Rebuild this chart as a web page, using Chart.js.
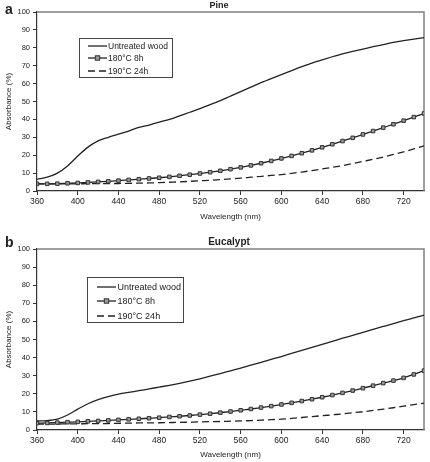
<!DOCTYPE html>
<html>
<head>
<meta charset="utf-8">
<script src="https://cdn.jsdelivr.net/npm/chart.js@4.4.1/dist/chart.umd.min.js"></script>
<style>
  html,body{margin:0;padding:0;background:#fff;}
  #wrap{position:relative;width:430px;height:462px;overflow:hidden;background:#fff;font-family:"Liberation Sans",Arial,sans-serif;color:#222;}
  canvas{position:absolute;left:0;}
  .lbl{position:absolute;font-weight:bold;font-size:14px;line-height:14px;z-index:2;}
  .ttl{position:absolute;font-weight:bold;transform:translate(-50%,-50%);white-space:nowrap;z-index:2;line-height:1;}
  .leg{position:absolute;border:1px solid #444;background:#fff;z-index:2;box-sizing:border-box;filter:grayscale(1);}
  .row{position:absolute;left:0;display:flex;align-items:center;white-space:nowrap;transform:translateY(-50%);}
  .row svg{display:block;}
</style>
</head>
<body>
<div id="wrap">
  <canvas id="c1" width="430" height="231" style="top:0px"></canvas>
  <canvas id="c2" width="430" height="239" style="top:223px"></canvas>
  <div class="lbl" style="left:5px;top:2px;">a</div>
  <div class="ttl" style="left:219px;top:5px;font-size:9px;">Pine</div>
  <div class="lbl" style="left:5px;top:235px;">b</div>
  <div class="ttl" style="left:229px;top:242px;font-size:10px;">Eucalypt</div>
  <div id="leg1" class="leg" style="left:79px;top:38px;width:94px;height:40px;"></div>
  <div id="leg2" class="leg" style="left:87px;top:277px;width:97px;height:46px;"></div>
</div>
<script>
// ---- data ----
const wavelengths = [360,370,380,390,400,410,420,430,440,450,460,470,480,490,500,510,520,530,540,550,560,570,580,590,600,610,620,630,640,650,660,670,680,690,700,710,720,730,740];
const seriesNames = ["Untreated wood", "180°C 8h", "190°C 24h"];
const xTickLabels = [360,400,440,480,520,560,600,640,680,720];
const yTickLabels = [0,10,20,30,40,50,60,70,80,90,100];

const pineUntreated = [6.5,7.7,10,14,19.5,24.5,28,30,31.8,33.5,35.5,36.8,38.5,40,42,44,46,48.2,50.5,53,55.5,58,60.5,62.8,65,67.3,69.5,71.5,73.3,75,76.6,78,79.3,80.6,81.8,83,84,84.9,85.7];
const pine180_8h   = [4,4,4.1,4.3,4.5,4.8,5.1,5.4,5.8,6.2,6.6,7,7.4,7.9,8.5,9.1,9.8,10.5,11.3,12.2,13.2,14.3,15.5,16.8,18.2,19.6,21.1,22.7,24.4,26.1,27.9,29.7,31.6,33.5,35.4,37.3,39.3,41.3,43.3];
const pine190_24h  = [4,4,4,4,4,4.1,4.1,4.2,4.2,4.3,4.4,4.5,4.7,4.9,5.1,5.4,5.7,6,6.4,6.8,7.2,7.7,8.2,8.7,9.2,9.9,10.6,11.4,12.3,13.2,14.2,15.3,16.5,17.7,19,20.4,21.9,23.5,25.2];

const eucUntreated = [5,5.2,6,8.3,11.5,14.5,16.8,18.5,19.8,20.8,21.7,22.7,23.7,24.7,25.8,27,28.3,29.7,31.2,32.7,34.2,35.8,37.4,39,40.6,42.3,44,45.7,47.3,49,50.7,52.3,54,55.6,57.2,58.8,60.4,61.9,63.5];
const euc180_8h    = [3.8,3.9,4.1,4.3,4.5,4.8,5,5.3,5.6,5.9,6.2,6.5,6.8,7.2,7.6,8,8.5,9,9.6,10.2,10.9,11.6,12.4,13.2,14.1,15,16,17,18.1,19.3,20.5,21.8,23.1,24.5,25.9,27.3,28.8,30.7,32.8];
const euc190_24h   = [3.3,3.3,3.3,3.4,3.4,3.5,3.5,3.6,3.7,3.8,3.9,3.95,4,4.1,4.2,4.35,4.5,4.6,4.7,4.85,5,5.2,5.45,5.7,6,6.4,6.9,7.4,7.9,8.4,8.9,9.5,10.1,10.8,11.5,12.3,13.2,14,14.8];

// ---- helpers ----
const INK = '#222';
function pts(vals){ return wavelengths.map((w,i)=>({x:w, y:vals[i]})); }

const framePlugin = {
  id:'frame',
  beforeDatasetsDraw(chart){
    const {ctx, chartArea:a} = chart;
    ctx.save();
    ctx.strokeStyle = '#808080';
    ctx.lineWidth = 1.5;
    ctx.beginPath();
    ctx.moveTo(a.left, a.top); ctx.lineTo(a.right, a.top); ctx.lineTo(a.right, a.bottom);
    ctx.stroke();
    ctx.restore();
  }
};

function makeChart(id, series, opt){
  const ctx = document.getElementById(id);
  return new Chart(ctx, {
    type:'line',
    data:{
      datasets:[
        {label:seriesNames[0], data:pts(series[0]), borderColor:INK, borderWidth:1.3, pointRadius:0, cubicInterpolationMode:'monotone', fill:false},
        {label:seriesNames[1], data:pts(series[1]), borderColor:INK, borderWidth:1.3, pointStyle:'rect', pointRadius:2.5, pointBackgroundColor:'#9a9a9a', pointBorderColor:'#333', pointBorderWidth:1, cubicInterpolationMode:'monotone', fill:false},
        {label:seriesNames[2], data:pts(series[2]), borderColor:INK, borderWidth:1.3, borderDash:[7,4], pointRadius:0, cubicInterpolationMode:'monotone', fill:false}
      ]
    },
    options:{
      responsive:false, animation:false, events:[],
      layout:{padding:{top:opt.top, right:6, left:0, bottom:0}},
      plugins:{legend:{display:false}, tooltip:{enabled:false}, title:{display:false}},
      scales:{
        x:{
          type:'linear', min:360, max:740,
          afterBuildTicks(s){ s.ticks = xTickLabels.map(v=>({value:v})); },
          afterFit(s){ s.height = opt.xh; },
          grid:{drawOnChartArea:false, drawTicks:true, tickLength:4, color:'#333'},
          border:{display:true, color:'#333', width:1.2},
          ticks:{color:INK, font:{family:'"Liberation Sans", Arial', size:8.5}, padding:2, maxRotation:0, autoSkip:false},
          title:{display:true, text:'Wavelength (nm)', color:INK, font:{family:'"Liberation Sans", Arial', size:8}, padding:{top:2, bottom:opt.xpb}}
        },
        y:{
          min:0, max:100,
          afterBuildTicks(s){ s.ticks = yTickLabels.map(v=>({value:v})); },
          afterFit(s){ s.width = 37; },
          grid:{drawOnChartArea:false, drawTicks:true, tickLength:4, color:'#333'},
          border:{display:true, color:'#333', width:1.2},
          ticks:{color:INK, font:{family:'"Liberation Sans", Arial', size:7.5}, padding:3},
          title:{display:true, text:'Absorbance (%)', color:INK, font:{family:'"Liberation Sans", Arial', size:8}, padding:{top:4, bottom:0}}
        }
      }
    },
    plugins:[framePlugin]
  });
}

makeChart('c1', [pineUntreated, pine180_8h, pine190_24h], {top:12, xh:40, xpb:9});
makeChart('c2', [eucUntreated, euc180_8h, euc190_24h], {top:26, xh:32, xpb:2});

// ---- legends (HTML, real text) ----
function sample(kind){
  const w = 19, h = 8;
  let s = `<svg width="${w}" height="${h}" viewBox="0 0 ${w} ${h}">`;
  if(kind===2){
    s += `<line x1="0" y1="4" x2="${w}" y2="4" stroke="${INK}" stroke-width="1.3" stroke-dasharray="7,4"/>`;
  } else {
    s += `<line x1="0" y1="4" x2="${w}" y2="4" stroke="${INK}" stroke-width="1.3"/>`;
  }
  if(kind===1){
    s += `<rect x="${w/2-2.2}" y="1.8" width="4.4" height="4.4" fill="#9a9a9a" stroke="#333" stroke-width="1"/>`;
  }
  return s + '</svg>';
}
function buildLegend(id, cfg){
  const el = document.getElementById(id);
  seriesNames.forEach((n,i)=>{
    const r = document.createElement('div');
    r.className = 'row';
    r.style.top = (cfg.y0 + i*cfg.dy) + 'px';
    r.style.left = cfg.x0 + 'px';
    r.style.fontSize = cfg.fs + 'px';
    r.innerHTML = sample(i) + `<span style="margin-left:${cfg.gap}px">${n}</span>`;
    el.appendChild(r);
  });
}
buildLegend('leg1', {x0:8, y0:6.5, dy:12.8, fs:8.5, gap:1});
buildLegend('leg2', {x0:9, y0:8.5, dy:14.8, fs:9, gap:1.5});
</script>
</body>
</html>
